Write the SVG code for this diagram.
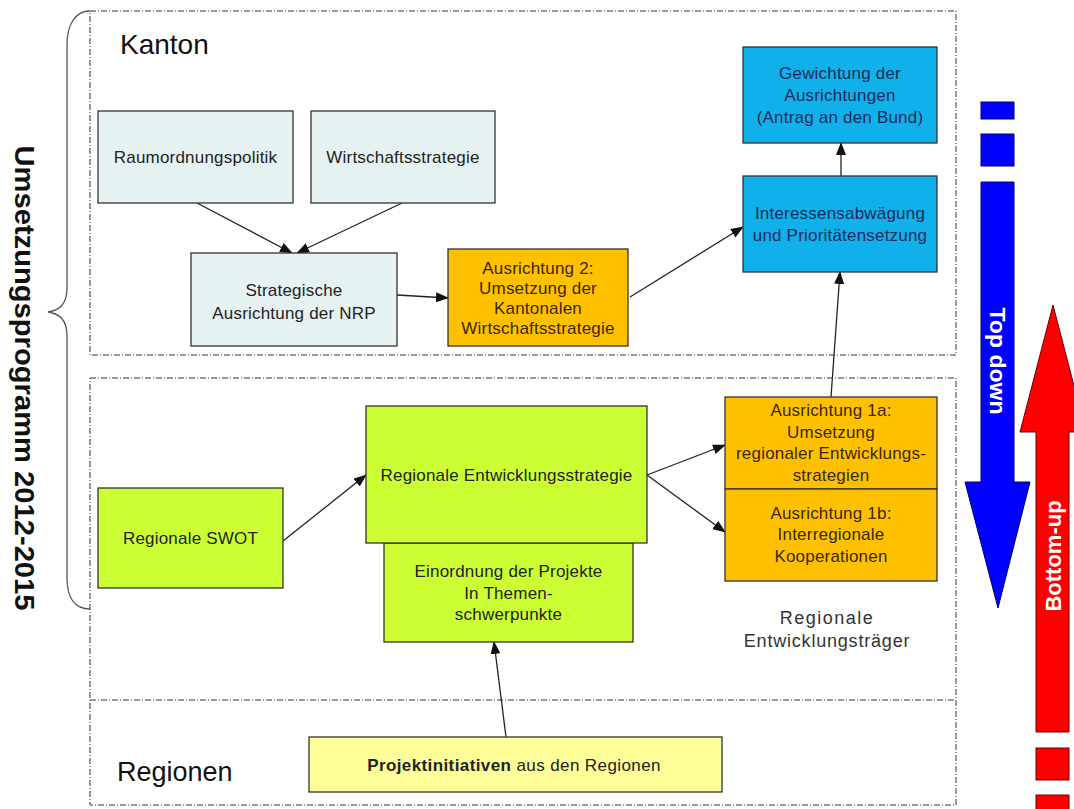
<svg xmlns="http://www.w3.org/2000/svg" width="1074" height="809" viewBox="0 0 1074 809">
<defs>
<marker id="ah" markerWidth="13" markerHeight="10" refX="12" refY="5" orient="auto" markerUnits="userSpaceOnUse">
<path d="M0,0 L13,5 L0,10 Z" fill="#111"/>
</marker>
<style>
.frame{fill:none;stroke:#333;stroke-width:1;stroke-dasharray:6 2 1 2}
.box{stroke:#333;stroke-width:1.3}
.lb{fill:#E6F2F2}
.or{fill:#FFC000}
.bl{fill:#10B0EA}
.gr{fill:#CCFF33}
.ye{fill:#FFFF99}
.t{font-family:"Liberation Sans",Arial,sans-serif;font-size:17px;fill:#222;text-anchor:middle;letter-spacing:0.2px}
.to{fill:#3a2800}
.tb{fill:#1c2c5c}
.big{font-family:"Liberation Sans",Arial,sans-serif;font-size:28px;fill:#111}
.vt{font-family:"Liberation Sans",Arial,sans-serif;font-weight:bold;text-anchor:middle}
.conn line{stroke:#222;stroke-width:1.3;marker-end:url(#ah)}
</style>
</defs>
<rect width="1074" height="809" fill="#fff"/>

<g id="frames">
<rect class="frame" x="90" y="11" width="866" height="344"/>
<rect class="frame" x="90" y="378" width="866" height="427"/>
<line class="frame" x1="90" y1="700" x2="956" y2="700"/>
</g>

<g id="brace">
<path d="M90,11 C75,11 67,25 67,45 L67,288 C67,304 60,310 48,312 C60,314 67,320 67,336 L67,578 C67,598 75,609 90,609" fill="none" stroke="#555" stroke-width="1.3"/>
<text class="vt" font-size="28" fill="#111" transform="translate(25,378) rotate(90)" x="0" y="10" textLength="465" lengthAdjust="spacingAndGlyphs">Umsetzungsprogramm 2012-2015</text>
</g>

<g id="labels">
<text class="big" x="120" y="54">Kanton</text>
<text class="big" x="117" y="781" style="font-size:27px">Regionen</text>
<g id="traeger">
<text class="t" x="827" y="624" style="font-size:18px;fill:#333;letter-spacing:1.5px">Regionale</text>
<text class="t" x="827" y="647" style="font-size:18px;fill:#333;letter-spacing:0.8px">Entwicklungsträger</text>
</g>
</g>

<g id="connectors" class="conn">
<line x1="197" y1="203" x2="292" y2="253"/>
<line x1="402" y1="203" x2="297" y2="253"/>
<line x1="397" y1="295" x2="448" y2="298"/>
<line x1="630" y1="297" x2="743" y2="227"/>
<line x1="841" y1="176" x2="841" y2="143"/>
<line x1="831" y1="397" x2="840" y2="272"/>
<line x1="283" y1="541" x2="366" y2="475"/>
<line x1="647" y1="475" x2="725" y2="445"/>
<line x1="647" y1="475" x2="725" y2="532"/>
<line x1="506" y1="737" x2="494" y2="642"/>
</g>

<g id="raum">
<rect class="box lb" x="98" y="111" width="195" height="92"/>
<text class="t" x="195.5" y="163">Raumordnungspolitik</text>
</g>
<g id="wirt">
<rect class="box lb" x="311" y="111" width="184" height="92"/>
<text class="t" x="403" y="163">Wirtschaftsstrategie</text>
</g>
<g id="strat">
<rect class="box lb" x="191" y="253" width="206" height="93"/>
<text class="t" x="294" y="296">Strategische</text>
<text class="t" x="294" y="319">Ausrichtung der NRP</text>
</g>
<g id="ausr2">
<rect class="box or" x="448" y="249" width="180" height="97"/>
<text class="t to" x="538" y="274">Ausrichtung 2:</text>
<text class="t to" x="538" y="294">Umsetzung der</text>
<text class="t to" x="538" y="314">Kantonalen</text>
<text class="t to" x="538" y="334">Wirtschaftsstrategie</text>
</g>
<g id="gewichtung">
<rect class="box bl" x="743" y="47" width="194" height="96"/>
<text class="t tb" x="840" y="79">Gewichtung der</text>
<text class="t tb" x="840" y="101">Ausrichtungen</text>
<text class="t tb" x="840" y="123">(Antrag an den Bund)</text>
</g>
<g id="interessen">
<rect class="box bl" x="743" y="176" width="194" height="96"/>
<text class="t tb" x="840" y="219">Interessensabwägung</text>
<text class="t tb" x="840" y="241">und Prioritätensetzung</text>
</g>
<g id="swot">
<rect class="box gr" x="98" y="488" width="185" height="100"/>
<text class="t" x="190.5" y="544">Regionale SWOT</text>
</g>
<g id="einordnung">
<rect class="box gr" x="384" y="543" width="249" height="99"/>
<text class="t" x="508.5" y="577">Einordnung der Projekte</text>
<text class="t" x="508.5" y="599">In Themen-</text>
<text class="t" x="508.5" y="620">schwerpunkte</text>
</g>
<g id="res">
<rect class="box gr" x="366" y="406" width="281" height="137"/>
<text class="t" x="506.5" y="481">Regionale Entwicklungsstrategie</text>
</g>
<g id="a1a">
<rect class="box or" x="725" y="397" width="212" height="92"/>
<text class="t to" x="831" y="416">Ausrichtung 1a:</text>
<text class="t to" x="831" y="438">Umsetzung</text>
<text class="t to" x="831" y="459">regionaler Entwicklungs-</text>
<text class="t to" x="831" y="481">strategien</text>
</g>
<g id="a1b">
<rect class="box or" x="725" y="489" width="212" height="92"/>
<text class="t to" x="831" y="519">Ausrichtung 1b:</text>
<text class="t to" x="831" y="540">Interregionale</text>
<text class="t to" x="831" y="562">Kooperationen</text>
</g>
<g id="projekt">
<rect class="box ye" x="309" y="737" width="413" height="55"/>
<text class="t" x="514" y="771" style="font-size:17px;letter-spacing:0.4px"><tspan font-weight="bold">Projektinitiativen</tspan> aus den Regionen</text>
</g>

<g id="topdown">
<rect x="981" y="102" width="33" height="17" fill="#0000FF" stroke="#00006A"/>
<rect x="981" y="134" width="33" height="32" fill="#0000FF" stroke="#00006A"/>
<path d="M981,182 L1014,182 L1014,482 L1030,482 L998,608 L965,482 L981,482 Z" fill="#0000FF" stroke="#00006A"/>
<text class="vt" font-size="22" fill="#fff" transform="translate(998,361) rotate(90)" x="0" y="8" textLength="107" lengthAdjust="spacingAndGlyphs">Top down</text>
</g>
<g id="bottomup">
<path d="M1053,305 L1086,432 L1069,432 L1069,732 L1036,732 L1036,432 L1020,432 Z" fill="#FF0000" stroke="#6A0000"/>
<rect x="1036" y="748" width="33" height="32" fill="#FF0000" stroke="#6A0000"/>
<rect x="1036" y="795" width="33" height="20" fill="#FF0000" stroke="#6A0000"/>
<text class="vt" font-size="22" fill="#fff" transform="translate(1053,556) rotate(-90)" x="0" y="8">Bottom-up</text>
</g>
</svg>
